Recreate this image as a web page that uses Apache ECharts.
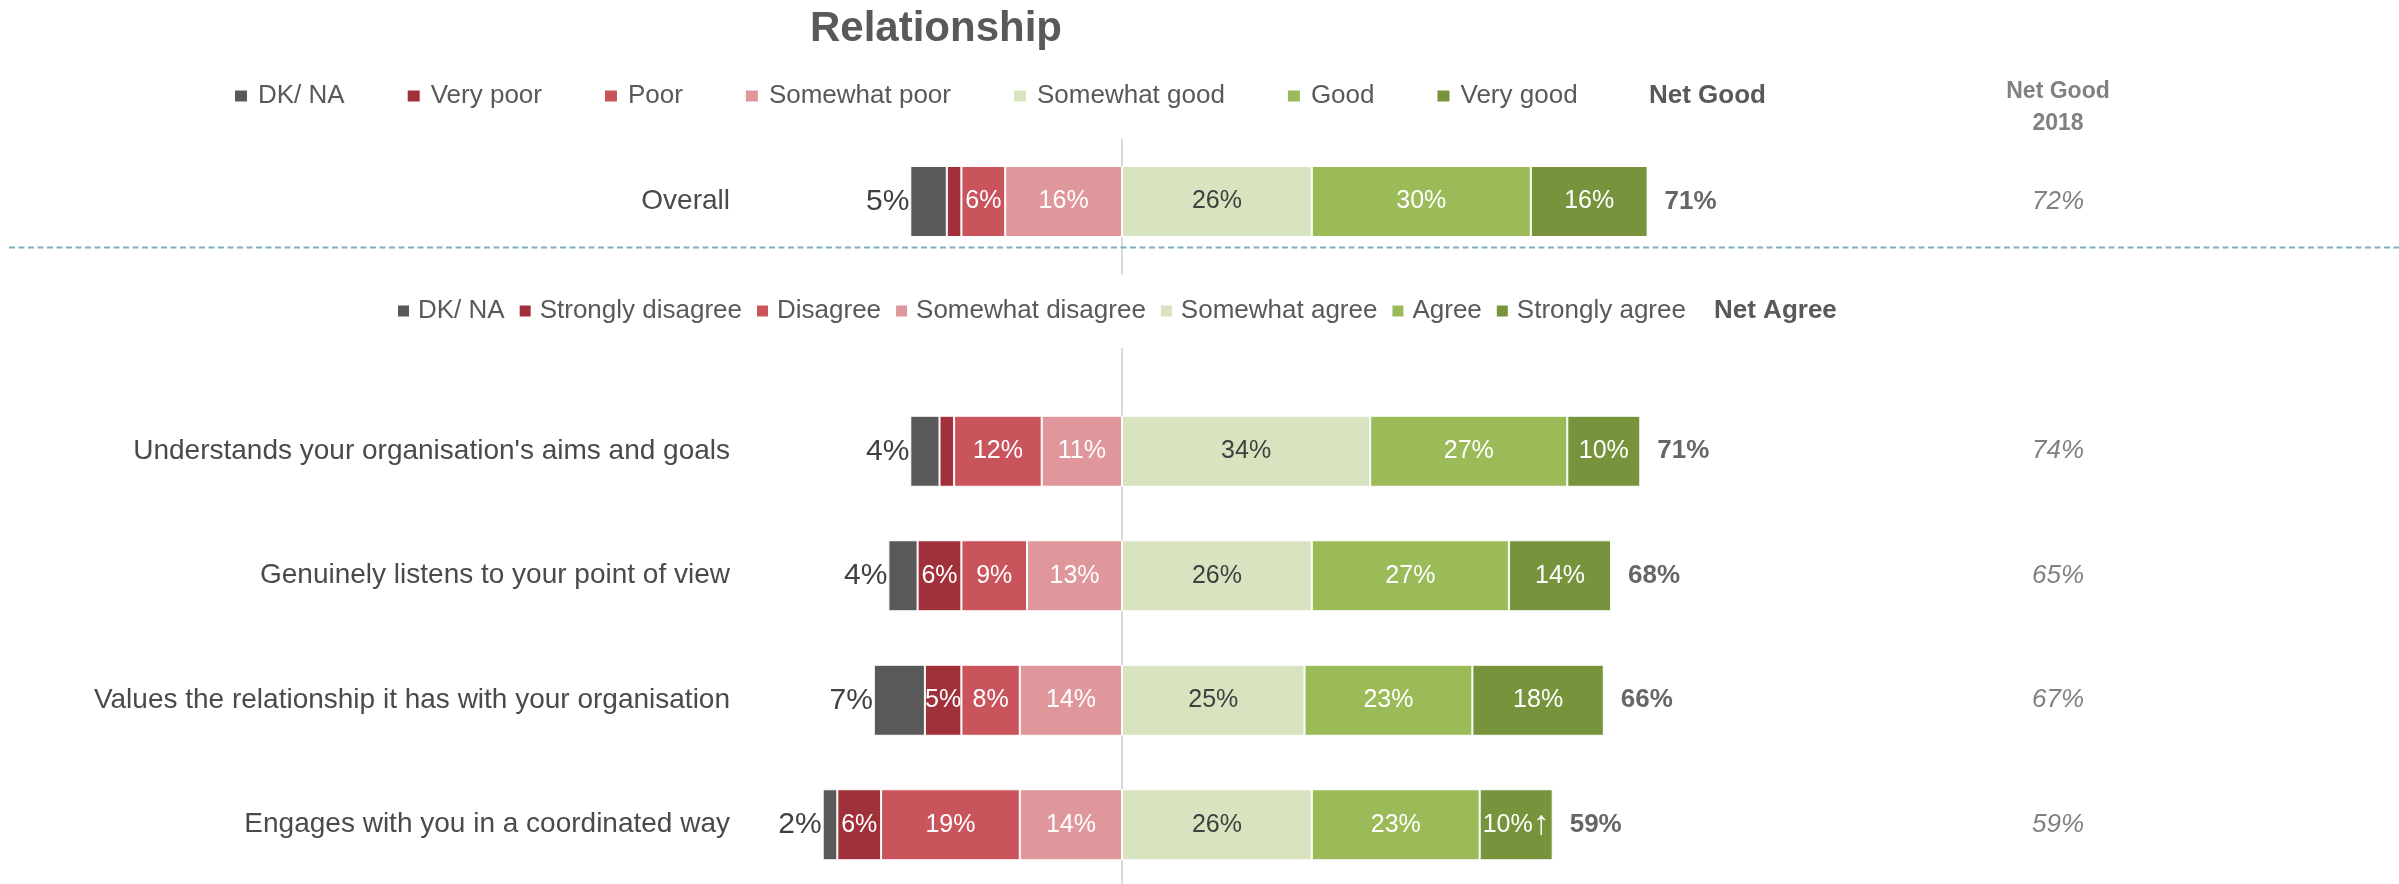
<!DOCTYPE html>
<html>
<head>
<meta charset="utf-8">
<script src="https://cdn.jsdelivr.net/npm/echarts@6/dist/echarts.min.js"></script>
<style>
  html, body { margin: 0; padding: 0; background: #ffffff; }
  #chart { width: 2399px; height: 884px; }
</style>
</head>
<body>
<div id="chart"></div>
<script>
// ---- Overall relationship rating ----
const overallCategories = ['Overall'];
const ratingNames = ['DK/ NA', 'Very poor', 'Poor', 'Somewhat poor', 'Somewhat good', 'Good', 'Very good'];
const overallDk = [5];
const overallVeryPoor = [2];
const overallPoor = [6];
const overallSomewhatPoor = [16];
const overallSomewhatGood = [26];
const overallGood = [30];
const overallVeryGood = [16];
const overallNetGood = [71];
const overallNet2018 = [72];
const overallSigUp = [false];

// ---- Agreement statements ----
const statements = [
  "Understands your organisation's aims and goals",
  'Genuinely listens to your point of view',
  'Values the relationship it has with your organisation',
  'Engages with you in a coordinated way'
];
const agreeNames = ['DK/ NA', 'Strongly disagree', 'Disagree', 'Somewhat disagree', 'Somewhat agree', 'Agree', 'Strongly agree'];
const stDk = [4, 4, 7, 2];
const stStronglyDisagree = [2, 6, 5, 6];
const stDisagree = [12, 9, 8, 19];
const stSomewhatDisagree = [11, 13, 14, 14];
const stSomewhatAgree = [34, 26, 25, 26];
const stAgree = [27, 27, 23, 23];
const stStronglyAgree = [10, 14, 18, 10];
const stNetAgree = [71, 68, 66, 59];
const stNet2018 = [74, 65, 67, 59];
const stSigUp = [false, false, false, true];

// Palette: DK, strongest negative ... strongest positive
const colors = ['#595959', '#A0313A', '#C9545C', '#E0979B', '#D8E4C0', '#9BBB59', '#77933C'];
const FONT = '"Liberation Sans", Arial, sans-serif';
const TEXT_DARK = '#404040';

function pct(v) { return Math.abs(v) + '%'; }

// Builds the stacked diverging bars for one block (grid)
function buildBlock(gi, names, cats, dk, neg2, neg1, neg0, pos0, pos1, pos2, net, sigUp) {
  const xi = gi, yi = gi * 2;
  const base = (name, data, color) => ({
    type: 'bar', name, stack: 'total' + gi, xAxisIndex: xi, yAxisIndex: yi,
    barWidth: 71, data, itemStyle: { color, borderColor: '#ffffff', borderWidth: 1 },
    emphasis: { disabled: true }
  });
  const insideLabel = (color) => ({
    show: true, position: 'inside', fontSize: 25, color, fontFamily: FONT,
    formatter: p => Math.abs(p.value) < 3 ? '' : pct(p.value)
  });
  const s = [];
  // Negative side: nearest to zero first
  const sNeg0 = base(names[3], neg0.map(v => -v), colors[3]); sNeg0.label = insideLabel('#ffffff');
  const sNeg1 = base(names[2], neg1.map(v => -v), colors[2]); sNeg1.label = insideLabel('#ffffff');
  const sNeg2 = base(names[1], neg2.map(v => -v), colors[1]); sNeg2.label = insideLabel('#ffffff');
  const sDk = base(names[0], dk.map(v => -v), colors[0]);
  sDk.label = { show: true, position: 'left', distance: 1, fontSize: 30, color: TEXT_DARK, fontFamily: FONT, formatter: p => pct(p.value) };
  const sPos0 = base(names[4], pos0, colors[4]); sPos0.label = insideLabel(TEXT_DARK);
  const sPos1 = base(names[5], pos1, colors[5]); sPos1.label = insideLabel('#ffffff');
  const sPos2 = base(names[6], pos2, colors[6]);
  sPos2.label = {
    show: true, position: 'inside', fontSize: 25, color: '#ffffff', fontFamily: FONT,
    formatter: p => sigUp[p.dataIndex] ? '{v|' + pct(p.value) + '}{a|\u2191}' : pct(p.value),
    rich: {
      v: { fontSize: 25, color: '#ffffff', fontFamily: FONT },
      a: { fontSize: 34, fontWeight: 'bold', color: '#ffffff', fontFamily: FONT }
    }
  };
  s.push(sNeg0, sNeg1, sNeg2, sDk, sPos0, sPos1, sPos2);
  // Net score printed just beyond the end of the positive stack
  s.push({
    type: 'scatter', xAxisIndex: xi, yAxisIndex: yi, symbolSize: 0, silent: true,
    data: cats.map((c, i) => [pos0[i] + pos1[i] + pos2[i], c]),
    label: {
      show: true, position: 'right', distance: 17, fontSize: 26, fontWeight: 'bold',
      color: TEXT_DARK, fontFamily: FONT, formatter: p => net[p.dataIndex] + '%'
    }
  });
  return s;
}

const GRID_LEFT = 757, GRID_WIDTH = 1095;
const xAxisBase = (gi) => ({ type: 'value', gridIndex: gi, min: -50, max: 100, show: false });
const catAxis = (gi, data) => ({
  type: 'category', gridIndex: gi, data, inverse: true, position: 'left',
  axisLine: { show: false }, axisTick: { show: false }, splitLine: { show: false },
  axisLabel: { fontSize: 28, color: '#4a4a4a', margin: 27, fontFamily: FONT }
});
const prevAxis = (gi, data) => ({
  type: 'category', gridIndex: gi, data: data.map(v => v + '%'), inverse: true, position: 'right',
  axisLine: { show: false }, axisTick: { show: false }, splitLine: { show: false },
  axisLabel: { fontSize: 26, fontStyle: 'italic', color: '#808080', margin: 206, align: 'center', fontFamily: FONT }
});

const legendBase = {
  icon: 'rect', selectedMode: false, padding: 0, itemHeight: 13,
  textStyle: { fontSize: 26, color: '#595959', fontFamily: FONT }
};

const chart = echarts.init(document.getElementById('chart'), null, { renderer: 'canvas' });
chart.setOption({
  animation: false,
  backgroundColor: '#ffffff',
  textStyle: { fontFamily: FONT },
  title: {
    text: 'Relationship', left: 810, top: 8, padding: 0,
    textStyle: { fontSize: 42, fontWeight: 'bold', color: '#595959', fontFamily: FONT }
  },
  legend: [
    Object.assign({}, legendBase, {
      data: ratingNames, left: 233, top: 83, itemWidth: 14, itemGap: 61,
      textStyle: Object.assign({}, legendBase.textStyle, { padding: [0, 0, 0, 5] })
    }),
    Object.assign({}, legendBase, {
      data: agreeNames, left: 396, top: 298, itemWidth: 13, itemGap: 13,
      textStyle: Object.assign({}, legendBase.textStyle, { padding: [0, 0, 0, 3] })
    })
  ],
  grid: [
    { left: GRID_LEFT, width: GRID_WIDTH, top: 139, height: 125, outerBoundsMode: 'none' },
    { left: GRID_LEFT, width: GRID_WIDTH, top: 389, height: 498, outerBoundsMode: 'none' }
  ],
  xAxis: [xAxisBase(0), xAxisBase(1)],
  yAxis: [
    catAxis(0, overallCategories), prevAxis(0, overallNet2018),
    catAxis(1, statements), prevAxis(1, stNet2018)
  ],
  series: [].concat(
    buildBlock(0, ratingNames, overallCategories, overallDk, overallVeryPoor, overallPoor,
      overallSomewhatPoor, overallSomewhatGood, overallGood, overallVeryGood, overallNetGood, overallSigUp),
    buildBlock(1, agreeNames, statements, stDk, stStronglyDisagree, stDisagree,
      stSomewhatDisagree, stSomewhatAgree, stAgree, stStronglyAgree, stNetAgree, stSigUp)
  )
});

// Zero line, block separator and column headers
const x0 = chart.convertToPixel({ xAxisIndex: 0 }, 0);
const header = (text, x, y, size, color, align) => ({
  type: 'text', x, y, silent: true,
  style: { text, fill: color, align, verticalAlign: 'middle', font: 'bold ' + size + 'px ' + FONT }
});
chart.setOption({
  graphic: [
    { type: 'line', silent: true, shape: { x1: x0, y1: 139, x2: x0, y2: 275 }, style: { stroke: '#D9D9D9', lineWidth: 2 } },
    { type: 'line', silent: true, shape: { x1: x0, y1: 348, x2: x0, y2: 884 }, style: { stroke: '#D9D9D9', lineWidth: 2 } },
    { type: 'line', silent: true, shape: { x1: 9, y1: 247.5, x2: 2399, y2: 247.5 }, style: { stroke: '#7FAFBF', lineWidth: 2, lineDash: [6, 3.5] } },
    header('Net Good', 1649, 96, 26, '#595959', 'left'),
    header('Net Agree', 1714, 311, 26, '#595959', 'left'),
    header('Net Good', 2058, 92, 23, '#808080', 'center'),
    header('2018', 2058, 124, 23, '#808080', 'center')
  ]
});
</script>
</body>
</html>
